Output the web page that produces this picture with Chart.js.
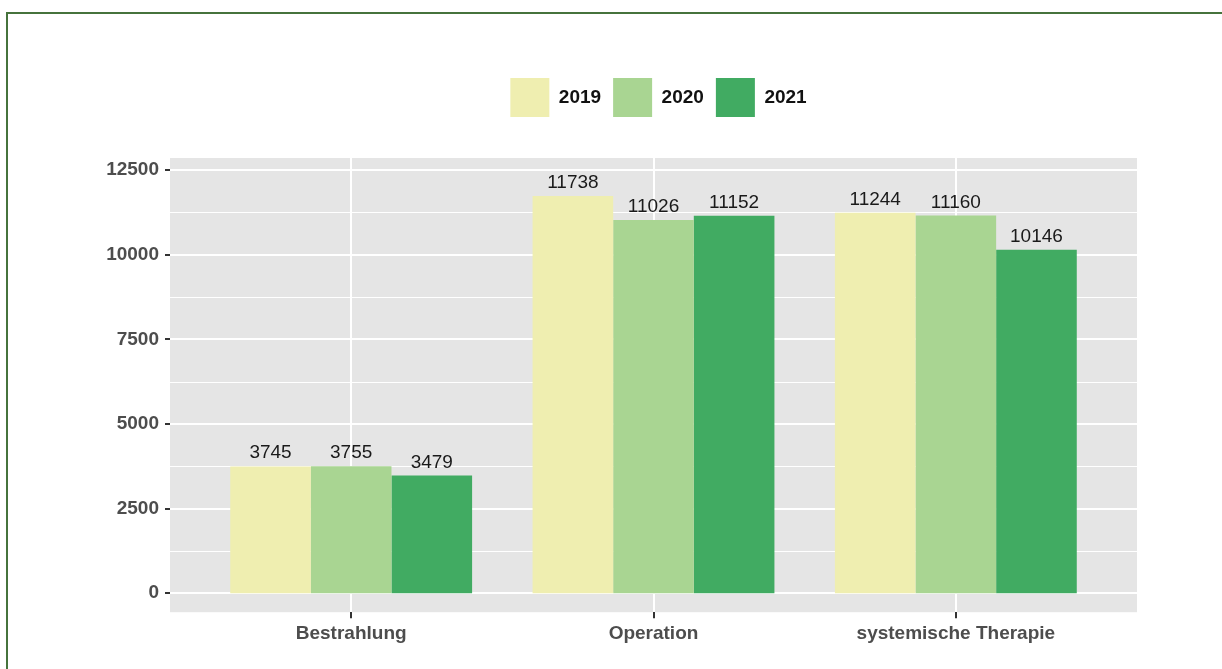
<!DOCTYPE html>
<html>
<head>
<meta charset="utf-8">
<script src="https://cdn.jsdelivr.net/npm/chart.js@4.4.1/dist/chart.umd.min.js"></script>
<style>
  html, body { margin: 0; padding: 0; background: #fff; overflow: hidden; }
  #frame { position: absolute; left: 6px; top: 12px; width: 1400px; height: 800px; border: 2px solid #46733c; }
  #chart { position: absolute; left: 0; top: 0; }
</style>
</head>
<body>
<div id="frame"></div>
<canvas id="chart" width="1222" height="669"></canvas>
<script>
const categories = ['Bestrahlung', 'Operation', 'systemische Therapie'];
const years = ['2019', '2020', '2021'];
const values2019 = [3745, 11738, 11244];
const values2020 = [3755, 11026, 11160];
const values2021 = [3479, 11152, 10146];
const yearColors = ['#efeeb0', '#a9d592', '#41ab62'];
const yTicks = [0, 2500, 5000, 7500, 10000, 12500];

const FONT = '"Liberation Sans", Arial, Helvetica, sans-serif';
const PANEL_PAD = 30; // grey panel reaches past the outer categories

// grey panel, white grid lines and y tick marks, ggplot style
const panelPlugin = {
  id: 'panel',
  beforeInit(chart) {
    // leave room between legend and panel
    const legend = chart.legend;
    const fit = legend.fit;
    legend.fit = function () {
      fit.call(this);
      this.height += 31;
    };
  },
  afterLayout(chart) {
    chart.legend.left += 5;
    chart.legend.right += 5;
  },
  beforeDraw(chart) {
    const { ctx, chartArea: a, scales: { y } } = chart;
    const left = a.left - PANEL_PAD;
    const right = a.right + PANEL_PAD;
    ctx.save();
    ctx.fillStyle = '#e5e5e5';
    ctx.fillRect(left, a.top, right - left, a.bottom - a.top);
    ctx.strokeStyle = '#ffffff';
    ctx.lineWidth = 1;
    for (let i = 0; i < yTicks.length - 1; i++) {
      const py = Math.round(y.getPixelForValue((yTicks[i] + yTicks[i + 1]) / 2)) + 0.5;
      ctx.beginPath();
      ctx.moveTo(left, py);
      ctx.lineTo(right, py);
      ctx.stroke();
    }
    ctx.lineWidth = 2;
    yTicks.forEach(v => {
      const py = Math.round(y.getPixelForValue(v));
      ctx.strokeStyle = '#ffffff';
      ctx.beginPath();
      ctx.moveTo(left, py);
      ctx.lineTo(right, py);
      ctx.stroke();
      ctx.strokeStyle = '#333333';
      ctx.beginPath();
      ctx.moveTo(left - 5, py);
      ctx.lineTo(left, py);
      ctx.stroke();
    });
    ctx.restore();
  }
};

// value printed above each bar
const valueLabels = {
  id: 'valueLabels',
  afterDatasetsDraw(chart) {
    const ctx = chart.ctx;
    ctx.save();
    ctx.font = '19px ' + FONT;
    ctx.fillStyle = '#1a1a1a';
    ctx.textAlign = 'center';
    ctx.textBaseline = 'alphabetic';
    chart.data.datasets.forEach((ds, i) => {
      chart.getDatasetMeta(i).data.forEach((bar, j) => {
        ctx.fillText(String(ds.data[j]), bar.x, bar.y - 8);
      });
    });
    ctx.restore();
  }
};

new Chart(document.getElementById('chart'), {
  type: 'bar',
  data: {
    labels: categories,
    datasets: [values2019, values2020, values2021].map((values, i) => ({
      label: years[i],
      data: values,
      backgroundColor: yearColors[i],
      borderWidth: 0,
      categoryPercentage: 0.8,
      barPercentage: 1.0
    }))
  },
  options: {
    responsive: false,
    animation: false,
    devicePixelRatio: 1,
    events: [],
    layout: { padding: { top: 66, right: 115, bottom: 20, left: 0 } },
    plugins: {
      tooltip: { enabled: false },
      legend: {
        position: 'top',
        fullSize: false,
        labels: {
          boxWidth: 39,
          boxHeight: 39,
          padding: 12,
          color: '#111111',
          font: { family: FONT, size: 19, weight: 'bold' }
        }
      }
    },
    scales: {
      x: {
        border: { display: false },
        grid: {
          color: '#ffffff',
          lineWidth: 2,
          offset: false,
          drawTicks: true,
          tickLength: 6,
          tickWidth: 2,
          tickColor: '#333333'
        },
        ticks: {
          padding: 4,
          color: '#4d4d4d',
          font: { family: FONT, size: 19, weight: 'bold' }
        }
      },
      y: {
        min: -560,
        max: 12860,
        afterBuildTicks(scale) {
          scale.ticks = yTicks.map(v => ({ value: v }));
        },
        afterFit(scale) {
          scale.width = 200;
        },
        border: { display: false },
        grid: { display: false, drawTicks: false },
        ticks: {
          padding: 41,
          color: '#4d4d4d',
          font: { family: FONT, size: 19, weight: 'bold' },
          callback: v => String(v)
        }
      }
    }
  },
  plugins: [panelPlugin, valueLabels]
});
</script>
</body>
</html>
